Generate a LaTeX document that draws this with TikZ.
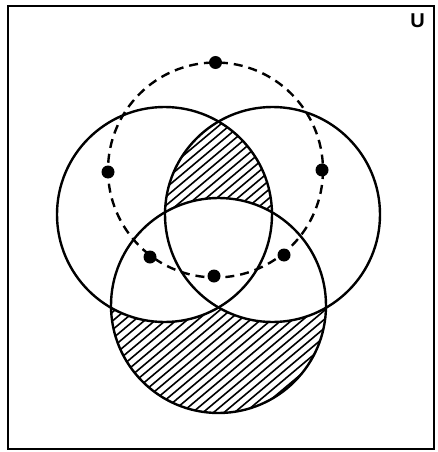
\documentclass[tikz,border=0pt]{standalone}
\usepackage{fontspec}
\setsansfont{Liberation Sans}
\begin{document}
\begin{tikzpicture}[x=1pt,y=-1pt,
  setline/.style={line width=2.4pt},
  hatchline/.style={line width=1.6pt},
  dashcircle/.style={line width=2.4pt, dash pattern=on 9pt off 6pt},
  elem/.style={circle, fill=black, inner sep=0pt, minimum size=13pt}]
\useasboundingbox (0,0) rectangle (437,452);
% universe frame
\draw[line width=2.4pt] (8,6) rectangle (434,449);
\node[font=\fontsize{20}{20}\selectfont\sffamily\bfseries, inner sep=0pt] (U) at (417.5,21) {U};
% hatching: lens of left and right
\begin{scope}
  \clip (164.5,214.5) circle (107.5);
  \clip (272.5,214.5) circle (107.5);
  \foreach \k in {-600,-589.5,...,460} \draw[hatchline] (\k,452) -- (\k+538,0);
\end{scope}
% hatching: bottom circle
\begin{scope}
  \clip (218.5,305.5) circle (107.5);
  \foreach \k in {-600,-589.5,...,460} \draw[hatchline] (\k,452) -- (\k+538,0);
\end{scope}
% remove hatching where bottom overlaps left or right
\begin{scope}
  \clip (218.5,305.5) circle (107.5);
  \fill[white] (164.5,214.5) circle (107.5);
  \fill[white] (272.5,214.5) circle (107.5);
\end{scope}
% the three sets
\draw[setline] (164.5,214.5) circle (107.5);
\draw[setline] (272.5,214.5) circle (107.5);
\draw[setline] (218.5,305.5) circle (107.5);
% dashed set
\draw[dashcircle] (215.5,170) circle (107.5);
% elements
\node[elem] (e1) at (215.5,62.5) {};
\node[elem] (e2) at (108,172) {};
\node[elem] (e3) at (322,170) {};
\node[elem] (e4) at (150,257) {};
\node[elem] (e5) at (214,276) {};
\node[elem] (e6) at (284,255) {};
\end{tikzpicture}
\end{document}
